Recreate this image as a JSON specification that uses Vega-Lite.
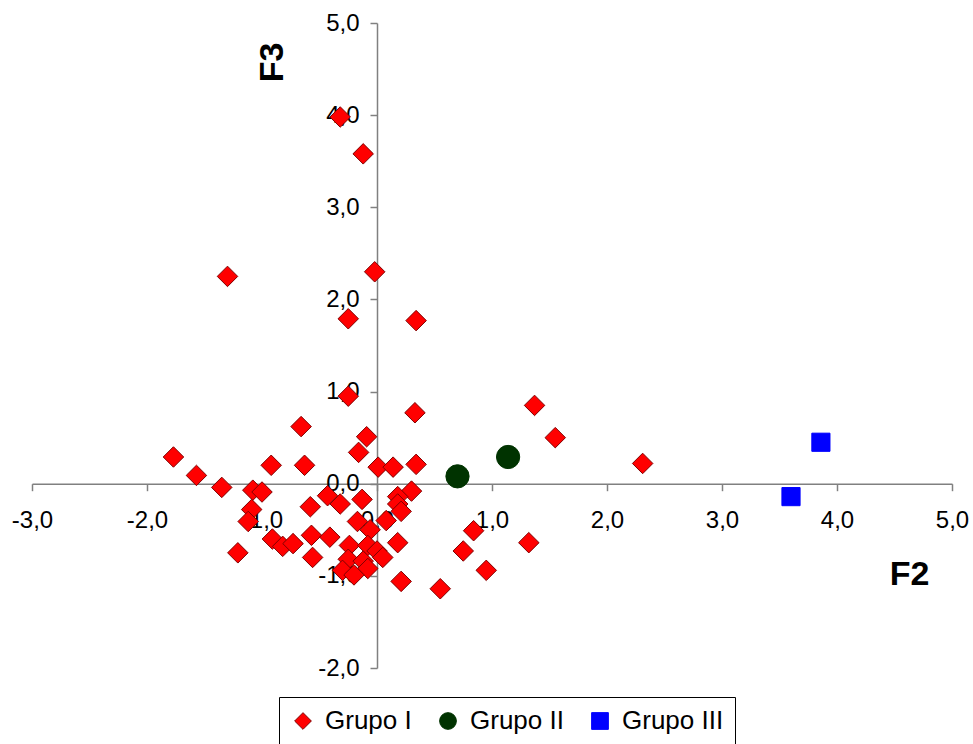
{
  "$schema": "https://vega.github.io/schema/vega-lite/v6.json",
  "width": 920,
  "height": 645,
  "autosize": {"type": "none"},
  "padding": {"left": 32, "top": 23, "right": 21, "bottom": 76},
  "background": "white",
  "config": {
    "font": "Liberation Sans",
    "view": {"stroke": null},
    "axis": {"grid": false}
  },
  "data": {
    "values": [
      {"grupo": "Grupo I", "F2": -0.32, "F3": 3.98},
      {"grupo": "Grupo I", "F2": -0.12, "F3": 3.58},
      {"grupo": "Grupo I", "F2": -1.30, "F3": 2.25},
      {"grupo": "Grupo I", "F2": -0.02, "F3": 2.30},
      {"grupo": "Grupo I", "F2": -0.25, "F3": 1.79},
      {"grupo": "Grupo I", "F2": 0.34, "F3": 1.77},
      {"grupo": "Grupo I", "F2": -0.25, "F3": 0.95},
      {"grupo": "Grupo I", "F2": 0.33, "F3": 0.77},
      {"grupo": "Grupo I", "F2": 1.37, "F3": 0.85},
      {"grupo": "Grupo I", "F2": 1.55, "F3": 0.50},
      {"grupo": "Grupo I", "F2": 2.31, "F3": 0.22},
      {"grupo": "Grupo I", "F2": -0.66, "F3": 0.62},
      {"grupo": "Grupo I", "F2": -0.09, "F3": 0.51},
      {"grupo": "Grupo I", "F2": -0.16, "F3": 0.34},
      {"grupo": "Grupo I", "F2": -1.77, "F3": 0.29},
      {"grupo": "Grupo I", "F2": -1.57, "F3": 0.09},
      {"grupo": "Grupo I", "F2": -1.35, "F3": -0.04},
      {"grupo": "Grupo I", "F2": -1.08, "F3": -0.07},
      {"grupo": "Grupo I", "F2": -1.00, "F3": -0.09},
      {"grupo": "Grupo I", "F2": -1.09, "F3": -0.28},
      {"grupo": "Grupo I", "F2": -1.12, "F3": -0.41},
      {"grupo": "Grupo I", "F2": -0.92, "F3": 0.20},
      {"grupo": "Grupo I", "F2": -0.63, "F3": 0.20},
      {"grupo": "Grupo I", "F2": 0.01, "F3": 0.18},
      {"grupo": "Grupo I", "F2": 0.14, "F3": 0.18},
      {"grupo": "Grupo I", "F2": 0.34, "F3": 0.21},
      {"grupo": "Grupo I", "F2": -1.21, "F3": -0.75},
      {"grupo": "Grupo I", "F2": -0.91, "F3": -0.60},
      {"grupo": "Grupo I", "F2": -0.82, "F3": -0.68},
      {"grupo": "Grupo I", "F2": -0.73, "F3": -0.65},
      {"grupo": "Grupo I", "F2": -0.58, "F3": -0.25},
      {"grupo": "Grupo I", "F2": -0.43, "F3": -0.13},
      {"grupo": "Grupo I", "F2": -0.32, "F3": -0.22},
      {"grupo": "Grupo I", "F2": -0.57, "F3": -0.56},
      {"grupo": "Grupo I", "F2": -0.41, "F3": -0.58},
      {"grupo": "Grupo I", "F2": -0.56, "F3": -0.80},
      {"grupo": "Grupo I", "F2": -0.17, "F3": -0.41},
      {"grupo": "Grupo I", "F2": 0.30, "F3": -0.08},
      {"grupo": "Grupo I", "F2": 0.18, "F3": -0.14},
      {"grupo": "Grupo I", "F2": 0.18, "F3": -0.22},
      {"grupo": "Grupo I", "F2": 0.21, "F3": -0.30},
      {"grupo": "Grupo I", "F2": -0.13, "F3": -0.17},
      {"grupo": "Grupo I", "F2": 0.08, "F3": -0.40},
      {"grupo": "Grupo I", "F2": -0.06, "F3": -0.50},
      {"grupo": "Grupo I", "F2": 0.18, "F3": -0.64},
      {"grupo": "Grupo I", "F2": -0.24, "F3": -0.67},
      {"grupo": "Grupo I", "F2": -0.08, "F3": -0.67},
      {"grupo": "Grupo I", "F2": 0.00, "F3": -0.73},
      {"grupo": "Grupo I", "F2": 0.05, "F3": -0.80},
      {"grupo": "Grupo I", "F2": -0.25, "F3": -0.82},
      {"grupo": "Grupo I", "F2": -0.12, "F3": -0.84},
      {"grupo": "Grupo I", "F2": -0.08, "F3": -0.92},
      {"grupo": "Grupo I", "F2": -0.30, "F3": -0.94},
      {"grupo": "Grupo I", "F2": -0.20, "F3": -0.99},
      {"grupo": "Grupo I", "F2": 0.21, "F3": -1.06},
      {"grupo": "Grupo I", "F2": 0.55, "F3": -1.14},
      {"grupo": "Grupo I", "F2": 0.75, "F3": -0.73},
      {"grupo": "Grupo I", "F2": 0.84, "F3": -0.51},
      {"grupo": "Grupo I", "F2": 0.95, "F3": -0.94},
      {"grupo": "Grupo I", "F2": 1.32, "F3": -0.64},
      {"grupo": "Grupo II", "F2": 0.70, "F3": 0.08},
      {"grupo": "Grupo II", "F2": 1.14, "F3": 0.29},
      {"grupo": "Grupo III", "F2": 3.60, "F3": -0.14},
      {"grupo": "Grupo III", "F2": 3.86, "F3": 0.45}
    ]
  },
  "encoding": {
    "x": {
      "field": "F2",
      "type": "quantitative",
      "scale": {"domain": [-3, 5], "nice": false, "zero": false},
      "axis": {
        "values": [-3, -2, -1, 0, 1, 2, 3, 4, 5],
        "offset": -184.3,
        "labelExpr": "replace(replace(format(datum.value, '.1f'), '.', ','), '\u2212', '-')",
        "labelFontSize": 24,
        "labelColor": "black",
        "labelPadding": 18,
        "labelOverlap": false,
        "labelFlush": false,
        "labelBound": false,
        "tickSize": 7,
        "tickWidth": 1.5,
        "tickColor": "#808080",
        "domainColor": "#808080",
        "domainWidth": 1.5,
        "title": "F2",
        "titleFontSize": 34,
        "titleFontWeight": "bold",
        "titleColor": "black",
        "titleX": 877,
        "titleY": 91,
        "titleAlign": "center",
        "titleBaseline": "middle",
        "titleAngle": 0
      }
    },
    "y": {
      "field": "F3",
      "type": "quantitative",
      "scale": {"domain": [-2, 5], "nice": false, "zero": false},
      "axis": {
        "values": [-2, -1, 0, 1, 2, 3, 4, 5],
        "offset": -345,
        "labelExpr": "replace(replace(format(datum.value, '.1f'), '.', ','), '\u2212', '-')",
        "labelFontSize": 24,
        "labelColor": "black",
        "labelPadding": 11,
        "labelOverlap": false,
        "labelFlush": false,
        "labelBound": false,
        "tickSize": 7,
        "tickWidth": 1.5,
        "tickColor": "#808080",
        "domainColor": "#808080",
        "domainWidth": 1.5,
        "title": "F3",
        "titleFontSize": 34,
        "titleFontWeight": "bold",
        "titleColor": "black",
        "titleX": -104.5,
        "titleY": 39,
        "titleAlign": "center",
        "titleBaseline": "middle",
        "titleAngle": 270
      }
    },
    "shape": {
      "field": "grupo",
      "type": "nominal",
      "scale": {"domain": ["Grupo I", "Grupo II", "Grupo III"], "range": ["diamond", "circle", "square"]},
      "legend": {"orient": "none", "legendX": 247, "legendY": 674, "direction": "horizontal", "title": null, "strokeColor": "black", "fillColor": "white", "padding": 11, "labelFontSize": 26, "labelColor": "black", "symbolSize": 280, "symbolStrokeWidth": 1, "columnPadding": 23, "labelOffset": 9}
    },
    "fill": {
      "field": "grupo",
      "type": "nominal",
      "scale": {"domain": ["Grupo I", "Grupo II", "Grupo III"], "range": ["#FF0000", "#003300", "#0000FF"]},
      "legend": {"orient": "none", "legendX": 247, "legendY": 674, "direction": "horizontal", "title": null, "strokeColor": "black", "fillColor": "white", "padding": 11, "labelFontSize": 26, "labelColor": "black", "symbolSize": 280, "symbolStrokeWidth": 1, "columnPadding": 23, "labelOffset": 9}
    },
    "stroke": {
      "field": "grupo",
      "type": "nominal",
      "scale": {"domain": ["Grupo I", "Grupo II", "Grupo III"], "range": ["#800000", "#003300", "#0000FF"]},
      "legend": {"orient": "none", "legendX": 247, "legendY": 674, "direction": "horizontal", "title": null, "strokeColor": "black", "fillColor": "white", "padding": 11, "labelFontSize": 26, "labelColor": "black", "symbolSize": 280, "symbolStrokeWidth": 1, "columnPadding": 23, "labelOffset": 9}
    }
  },
  "layer": [
    {
      "transform": [{"filter": "datum.grupo === 'Grupo I'"}],
      "mark": {"type": "point", "filled": true, "size": 420, "strokeWidth": 1, "opacity": 1}
    },
    {
      "transform": [{"filter": "datum.grupo === 'Grupo II'"}],
      "mark": {"type": "point", "filled": true, "size": 540, "strokeWidth": 1, "opacity": 1}
    },
    {
      "transform": [{"filter": "datum.grupo === 'Grupo III'"}],
      "mark": {"type": "point", "filled": true, "size": 330, "strokeWidth": 1, "opacity": 1}
    }
  ]
}
